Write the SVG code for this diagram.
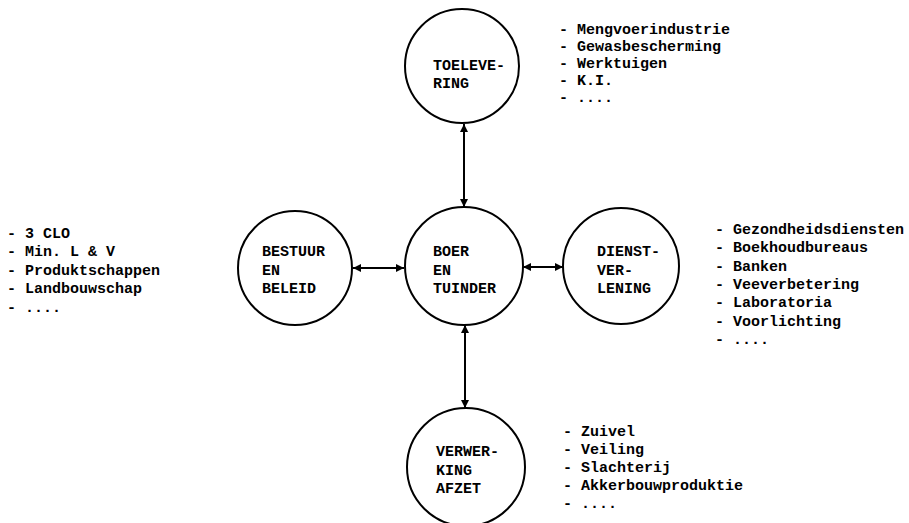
<svg xmlns="http://www.w3.org/2000/svg" width="909" height="523" viewBox="0 0 909 523">
  <defs>
    <marker id="head" viewBox="0 0 10 10" refX="10" refY="5" markerWidth="4.2" markerHeight="4" orient="auto-start-reverse" markerUnits="strokeWidth">
      <path d="M0,0 L10,5 L0,10 Z" fill="#000"/>
    </marker>
  </defs>
  <style>
    .node circle { fill: #fff; stroke: #000; stroke-width: 2; }
    text { font-family: "Liberation Mono", "Courier New", monospace; font-weight: bold; font-size: 15px; fill: #000; }
    .conn line { stroke: #000; stroke-width: 2; marker-start: url(#head); marker-end: url(#head); }
  </style>
  <rect width="909" height="523" fill="#fff"/>

  <!-- connectors -->
  <g id="connectors" class="conn">
    <line x1="464" y1="124" x2="464" y2="207"/>
    <line x1="353" y1="268" x2="404" y2="268"/>
    <line x1="523" y1="267" x2="563" y2="267"/>
    <line x1="465" y1="325" x2="465" y2="408"/>
  </g>

  <!-- nodes -->
  <g id="toelevering" class="node">
    <circle cx="462" cy="66" r="57"/>
    <text x="433" y="70">TOELEVE-</text>
    <text x="433" y="88">RING</text>
  </g>
  <g id="boer-en-tuinder" class="node">
    <circle cx="464" cy="266" r="59"/>
    <text x="433" y="256">BOER</text>
    <text x="433" y="275">EN</text>
    <text x="433" y="293">TUINDER</text>
  </g>
  <g id="bestuur-en-beleid" class="node">
    <circle cx="295" cy="268" r="57"/>
    <text x="262" y="256">BESTUUR</text>
    <text x="262" y="275">EN</text>
    <text x="262" y="293">BELEID</text>
  </g>
  <g id="dienstverlening" class="node">
    <circle cx="621" cy="266" r="58"/>
    <text x="597" y="256">DIENST-</text>
    <text x="597" y="275">VER-</text>
    <text x="597" y="293">LENING</text>
  </g>
  <g id="verwerking-afzet" class="node">
    <circle cx="466" cy="467" r="59"/>
    <text x="436" y="456">VERWER-</text>
    <text x="436" y="475">KING</text>
    <text x="436" y="493">AFZET</text>
  </g>

  <!-- lists -->
  <g id="list-toelevering">
    <text x="559" y="34">- Mengvoerindustrie</text>
    <text x="559" y="51">- Gewasbescherming</text>
    <text x="559" y="68">- Werktuigen</text>
    <text x="559" y="85">- K.I.</text>
    <text x="559" y="102">- ....</text>
  </g>
  <g id="list-bestuur">
    <text x="7" y="238">- 3 CLO</text>
    <text x="7" y="256">- Min. L &amp; V</text>
    <text x="7" y="275">- Produktschappen</text>
    <text x="7" y="293">- Landbouwschap</text>
    <text x="7" y="312">- ....</text>
  </g>
  <g id="list-dienstverlening">
    <text x="715" y="234">- Gezondheidsdiensten</text>
    <text x="715" y="252">- Boekhoudbureaus</text>
    <text x="715" y="271">- Banken</text>
    <text x="715" y="289">- Veeverbetering</text>
    <text x="715" y="307">- Laboratoria</text>
    <text x="715" y="326">- Voorlichting</text>
    <text x="715" y="344">- ....</text>
  </g>
  <g id="list-verwerking">
    <text x="563" y="436">- Zuivel</text>
    <text x="563" y="454">- Veiling</text>
    <text x="563" y="472">- Slachterij</text>
    <text x="563" y="490">- Akkerbouwproduktie</text>
    <text x="563" y="508">- ....</text>
  </g>
</svg>
